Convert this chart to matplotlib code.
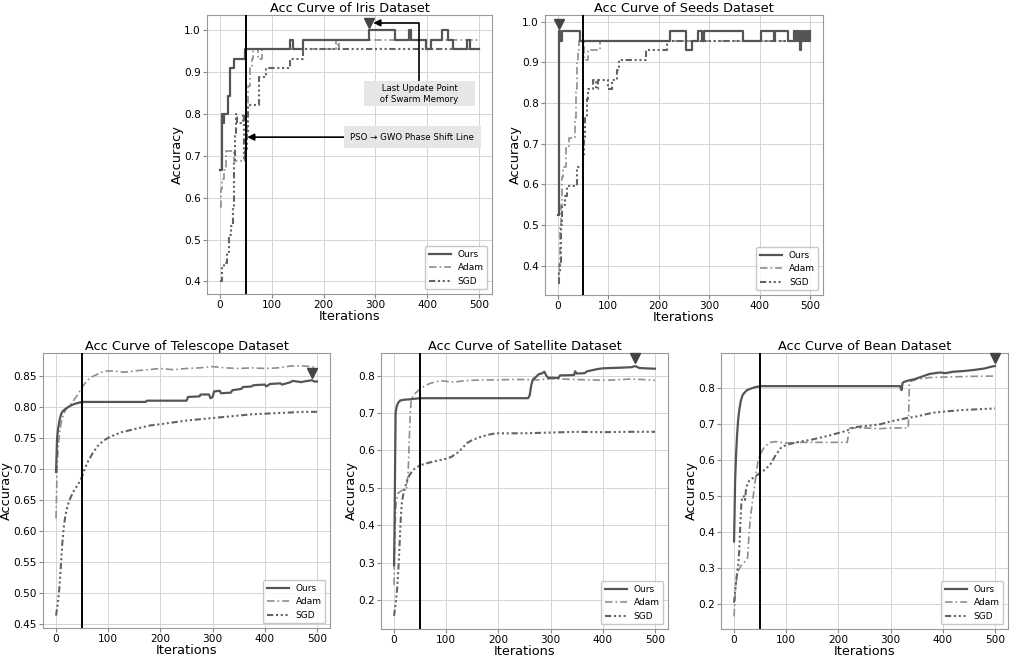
import numpy as np
import matplotlib
matplotlib.use("Agg")
import matplotlib.pyplot as plt
from matplotlib.transforms import offset_copy

# ---- data ----
# Iris (step curves)
iris_ours_x = [0, 3, 5, 7, 15, 20, 28, 48, 135, 141, 160, 287, 338, 365, 368, 398, 408, 428, 440, 450, 476, 482, 500]
iris_ours_y = [0.667, 0.800, 0.778, 0.800, 0.844, 0.911, 0.933, 0.956, 0.978, 0.956, 0.978, 1.000, 0.978, 1.000, 0.978,
               0.956, 0.978, 1.000, 0.978, 0.956, 0.978, 0.956, 0.956]
iris_adam_x = [0, 2, 4, 7, 11, 27, 48, 51, 53, 55, 58, 61, 64, 74, 81, 224, 227, 230, 500]
iris_adam_y = [0.578, 0.622, 0.644, 0.667, 0.711, 0.689, 0.711, 0.756, 0.800, 0.867, 0.911, 0.933, 0.956, 0.933, 0.956,
               0.978, 0.956, 0.978, 0.978]
iris_sgd_x = [0, 3, 8, 13, 17, 22, 26, 28, 29, 30, 33, 36, 45, 47, 49, 52, 55, 75, 88, 135, 160, 500]
iris_sgd_y = [0.400, 0.433, 0.444, 0.467, 0.511, 0.533, 0.578, 0.689, 0.756, 0.800, 0.778, 0.778, 0.800, 0.689, 0.711,
              0.756, 0.822, 0.889, 0.911, 0.933, 0.956, 0.956]

# Seeds (step curves)
seeds_ours_x = [0, 2, 5, 8, 44, 223, 253, 266, 277, 286, 290, 366, 403, 428, 431, 456, 468, 471, 474, 477,
                479, 481, 484, 487, 490, 493, 496, 500]
seeds_ours_y = [0.524, 0.976, 0.952, 0.976, 0.952, 0.976, 0.929, 0.952, 0.976, 0.952, 0.976, 0.952, 0.976, 0.952,
                0.976, 0.952, 0.976, 0.952, 0.976, 0.952, 0.929, 0.976, 0.952, 0.976, 0.952, 0.976, 0.952, 0.976]
seeds_adam_x = [0, 2, 4, 6, 8, 11, 16, 22, 34, 36, 38, 40, 42, 52, 60, 83, 500]
seeds_adam_y = [0.357, 0.405, 0.500, 0.548, 0.619, 0.643, 0.690, 0.714, 0.762, 0.833, 0.905, 0.929, 0.952, 0.905,
                0.929, 0.952, 0.952]
seeds_sgd_x = [0, 2, 5, 7, 9, 14, 19, 38, 50, 52, 55, 58, 61, 70, 76, 79, 100, 108, 117, 121, 175, 217, 500]
seeds_sgd_y = [0.357, 0.381, 0.405, 0.500, 0.548, 0.571, 0.595, 0.643, 0.667, 0.714, 0.762, 0.810, 0.833, 0.857,
               0.833, 0.857, 0.833, 0.857, 0.881, 0.905, 0.929, 0.952, 0.952]

# Telescope
tel_ours_x = [0, 2, 4, 7, 10, 13, 17, 22, 30, 40, 50, 100, 172, 174, 250, 253, 275, 277, 293, 296, 300, 303, 314,
              316, 335, 338, 355, 358, 375, 378, 400, 403, 410, 430, 433, 450, 453, 470, 475, 490, 495, 500]
tel_ours_y = [0.695, 0.750, 0.765, 0.780, 0.789, 0.793, 0.796, 0.799, 0.803, 0.806, 0.808, 0.808, 0.808, 0.810,
              0.810, 0.816, 0.817, 0.820, 0.820, 0.814, 0.816, 0.825, 0.826, 0.822, 0.823, 0.827, 0.829, 0.832,
              0.833, 0.835, 0.836, 0.833, 0.837, 0.838, 0.836, 0.840, 0.842, 0.840, 0.841, 0.843, 0.841, 0.841]
tel_adam_x = [0, 2, 4, 7, 10, 15, 20, 25, 30, 40, 50, 60, 70, 80, 90, 100, 110, 130, 150, 175, 200, 225, 250, 275,
              300, 325, 350, 375, 400, 425, 450, 475, 500]
tel_adam_y = [0.620, 0.700, 0.735, 0.760, 0.775, 0.790, 0.797, 0.802, 0.806, 0.818, 0.832, 0.843, 0.849, 0.853,
              0.857, 0.858, 0.858, 0.856, 0.858, 0.860, 0.862, 0.860, 0.862, 0.863, 0.865, 0.863, 0.862, 0.863,
              0.862, 0.863, 0.866, 0.866, 0.864]
tel_sgd_x = [0, 3, 6, 9, 12, 15, 18, 22, 27, 33, 40, 46, 50, 55, 60, 70, 80, 90, 100, 110, 125, 140, 160, 180, 200,
             225, 250, 275, 300, 325, 350, 375, 400, 425, 450, 475, 500]
tel_sgd_y = [0.463, 0.480, 0.505, 0.540, 0.580, 0.607, 0.625, 0.640, 0.652, 0.663, 0.672, 0.680, 0.688, 0.700,
             0.710, 0.725, 0.737, 0.745, 0.750, 0.754, 0.759, 0.762, 0.766, 0.770, 0.772, 0.775, 0.778, 0.780,
             0.782, 0.784, 0.786, 0.788, 0.789, 0.790, 0.791, 0.792, 0.792]

# Satellite
sat_ours_x = [0, 1, 2, 3, 5, 8, 12, 20, 30, 50, 150, 257, 260, 263, 266, 272, 278, 283, 288, 292, 296, 300, 315,
              318, 345, 347, 350, 365, 370, 380, 390, 400, 420, 440, 455, 462, 470, 480, 500]
sat_ours_y = [0.293, 0.400, 0.560, 0.700, 0.718, 0.728, 0.734, 0.736, 0.737, 0.740, 0.740, 0.740, 0.748, 0.775,
              0.790, 0.797, 0.805, 0.806, 0.811, 0.800, 0.794, 0.795, 0.794, 0.801, 0.802, 0.812, 0.806, 0.807,
              0.812, 0.815, 0.818, 0.820, 0.821, 0.822, 0.823, 0.826, 0.821, 0.820, 0.819]
sat_adam_x = [0, 2, 4, 7, 12, 18, 24, 27, 29, 31, 33, 36, 40, 50, 60, 70, 80, 90, 100, 115, 130, 150, 175, 200,
              225, 250, 275, 300, 325, 350, 375, 400, 425, 450, 475, 500]
sat_adam_y = [0.240, 0.400, 0.460, 0.485, 0.490, 0.495, 0.500, 0.540, 0.620, 0.700, 0.735, 0.745, 0.752, 0.765,
              0.774, 0.780, 0.784, 0.787, 0.785, 0.783, 0.786, 0.788, 0.789, 0.789, 0.790, 0.790, 0.789, 0.792,
              0.791, 0.790, 0.789, 0.788, 0.789, 0.791, 0.790, 0.788]
sat_sgd_x = [0, 3, 6, 9, 11, 13, 15, 18, 21, 25, 30, 35, 40, 50, 60, 75, 90, 100, 110, 120, 130, 140, 150, 165,
             180, 195, 225, 250, 300, 350, 400, 450, 500]
sat_sgd_y = [0.157, 0.190, 0.230, 0.300, 0.360, 0.420, 0.460, 0.485, 0.500, 0.520, 0.535, 0.545, 0.552, 0.560,
             0.565, 0.570, 0.575, 0.578, 0.583, 0.592, 0.605, 0.620, 0.628, 0.636, 0.642, 0.646, 0.646, 0.646,
             0.648, 0.650, 0.649, 0.650, 0.650]

# Bean
bean_ours_x = [0, 1, 2, 4, 6, 8, 10, 13, 16, 20, 25, 30, 40, 50, 150, 250, 318, 321, 323, 326, 335, 345, 355, 365,
               375, 385, 395, 405, 420, 440, 460, 480, 490, 500]
bean_ours_y = [0.375, 0.450, 0.540, 0.620, 0.675, 0.715, 0.740, 0.765, 0.780, 0.788, 0.795, 0.798, 0.803, 0.806,
               0.806, 0.806, 0.806, 0.795, 0.815, 0.818, 0.822, 0.825, 0.830, 0.835, 0.840, 0.842, 0.844, 0.842,
               0.846, 0.848, 0.851, 0.855, 0.859, 0.862]
bean_adam_x = [0, 3, 7, 12, 20, 26, 29, 32, 35, 38, 42, 46, 50, 55, 60, 70, 80, 90, 100, 120, 150, 180, 217, 219,
               222, 250, 280, 300, 334, 335, 336, 340, 350, 375, 400, 450, 500]
bean_adam_y = [0.167, 0.250, 0.290, 0.305, 0.318, 0.330, 0.400, 0.450, 0.480, 0.515, 0.560, 0.600, 0.615, 0.630,
               0.640, 0.650, 0.652, 0.650, 0.648, 0.650, 0.650, 0.650, 0.650, 0.670, 0.690, 0.690, 0.688, 0.690,
               0.690, 0.750, 0.815, 0.820, 0.825, 0.830, 0.831, 0.833, 0.834]
bean_sgd_x = [0, 3, 6, 8, 10, 12, 14, 16, 19, 21, 23, 26, 30, 40, 50, 60, 70, 80, 90, 100, 120, 150, 180, 215, 230,
              250, 280, 300, 330, 350, 380, 400, 440, 470, 500]
bean_sgd_y = [0.205, 0.250, 0.290, 0.310, 0.350, 0.420, 0.480, 0.500, 0.500, 0.490, 0.520, 0.537, 0.545, 0.555,
              0.565, 0.575, 0.590, 0.615, 0.635, 0.643, 0.650, 0.658, 0.668, 0.682, 0.692, 0.695, 0.700, 0.708,
              0.717, 0.722, 0.732, 0.735, 0.740, 0.742, 0.744]

shift_iter = 50
x_ticks = [0, 100, 200, 300, 400, 500]

OURS_C = '#555555'
ADAM_C = '#8e8e8e'
SGD_C = '#636363'
ADAM_LS = (0, (4.5, 1.8, 1, 1.8))
SGD_LS = (0, (3, 1.3, 1, 1.3, 1, 1.3, 1, 1.3))

fig = plt.figure(figsize=(10.1, 6.63), dpi=100)
W, H = 1010.0, 663.0


def make_ax(l, t, r, b):
    return fig.add_axes([l / W, 1 - b / H, (r - l) / W, (b - t) / H])


def panel(ax, name, ours, adam, sgd, ylim, yticks, steps=False):
    ds = 'steps-post' if steps else 'default'
    ax.plot(ours[0], ours[1], color=OURS_C, lw=1.6, drawstyle=ds, label='Ours', zorder=4)
    ax.plot(adam[0], adam[1], color=ADAM_C, lw=1.2, ls=ADAM_LS, drawstyle=ds, label='Adam', zorder=3)
    ax.plot(sgd[0], sgd[1], color=SGD_C, lw=1.5, ls=SGD_LS, drawstyle=ds, label='SGD', zorder=3)
    ax.axvline(shift_iter, color='black', lw=1.4, zorder=5)

    # marker just above the best point of our method
    oy = np.array(ours[1])
    i = int(np.argmax(oy))
    mtrans = offset_copy(ax.transData, fig=fig, y=5.5, units='points')
    ax.plot([ours[0][i]], [oy[i]], marker='v', ms=6.5, color='#444444', transform=mtrans,
            clip_on=False, zorder=6)

    ax.set_xlim(-25, 525)
    ax.set_ylim(*ylim)
    ax.set_xticks(x_ticks)
    ax.set_yticks(yticks)
    ax.tick_params(labelsize=7.6, length=3, pad=1.5, color='#888888')
    ax.grid(color='#d4d4d4', lw=0.7)
    ax.set_axisbelow(True)
    for s in ax.spines.values():
        s.set_color('#999999')
    ax.set_title('Acc Curve of %s Dataset' % name, fontsize=9.3, pad=2)
    ax.set_xlabel('Iterations', fontsize=9.3, labelpad=0)
    ax.set_ylabel('Accuracy', fontsize=9.3, labelpad=0)
    ax.legend(loc='lower right', fontsize=6.5, handlelength=2.4, edgecolor='#bbbbbb')
    return ours[0][i], oy[i], mtrans


ax1 = make_ax(207, 15, 492, 294)
mx, my, mtrans = panel(ax1, 'Iris', (iris_ours_x, iris_ours_y), (iris_adam_x, iris_adam_y),
                       (iris_sgd_x, iris_sgd_y), (0.370, 1.037), np.arange(0.4, 1.01, 0.1), steps=True)
ax1.annotate('PSO → GWO Phase Shift Line', xy=(shift_iter, 0.745), xytext=(371, 0.745),
             fontsize=6.2, ha='center', va='center', zorder=7,
             bbox=dict(boxstyle='square,pad=0.75', fc='#e6e6e6', ec='none'),
             arrowprops=dict(arrowstyle='-|>', color='black', lw=1.2, mutation_scale=10, shrinkA=0, shrinkB=1))
ax1.annotate('     Last Update Point     \n     of Swarm Memory     ', xy=(mx + 9, my), xycoords=mtrans,
             xytext=(385, 0.849), textcoords='data', fontsize=6.2, ha='center', va='center',
             bbox=dict(boxstyle='square,pad=0.3', fc='#e6e6e6', ec='none'), zorder=7, linespacing=1.3,
             arrowprops=dict(arrowstyle='-|>', color='black', lw=1.2, mutation_scale=10, relpos=(0.5, 1.0),
                             connectionstyle='angle,angleA=90,angleB=0,rad=0', shrinkA=0, shrinkB=0))

ax2 = make_ax(545, 15, 823, 295)
panel(ax2, 'Seeds', (seeds_ours_x, seeds_ours_y), (seeds_adam_x, seeds_adam_y),
      (seeds_sgd_x, seeds_sgd_y), (0.328, 1.016), np.arange(0.4, 1.01, 0.1), steps=True)

ax3 = make_ax(43, 353, 330, 628)
panel(ax3, 'Telescope', (tel_ours_x, tel_ours_y), (tel_adam_x, tel_adam_y),
      (tel_sgd_x, tel_sgd_y), (0.443, 0.887), np.arange(0.45, 0.851, 0.05))
ax3.yaxis.set_major_formatter(matplotlib.ticker.FormatStrFormatter('%.2f'))

ax4 = make_ax(381, 353, 668, 629)
panel(ax4, 'Satellite', (sat_ours_x, sat_ours_y), (sat_adam_x, sat_adam_y),
      (sat_sgd_x, sat_sgd_y), (0.122, 0.861), np.arange(0.2, 0.81, 0.1))

ax5 = make_ax(721, 353, 1008, 629)
panel(ax5, 'Bean', (bean_ours_x, bean_ours_y), (bean_adam_x, bean_adam_y),
      (bean_sgd_x, bean_sgd_y), (0.132, 0.898), np.arange(0.2, 0.81, 0.1))

fig.savefig('out.png', dpi=100)
